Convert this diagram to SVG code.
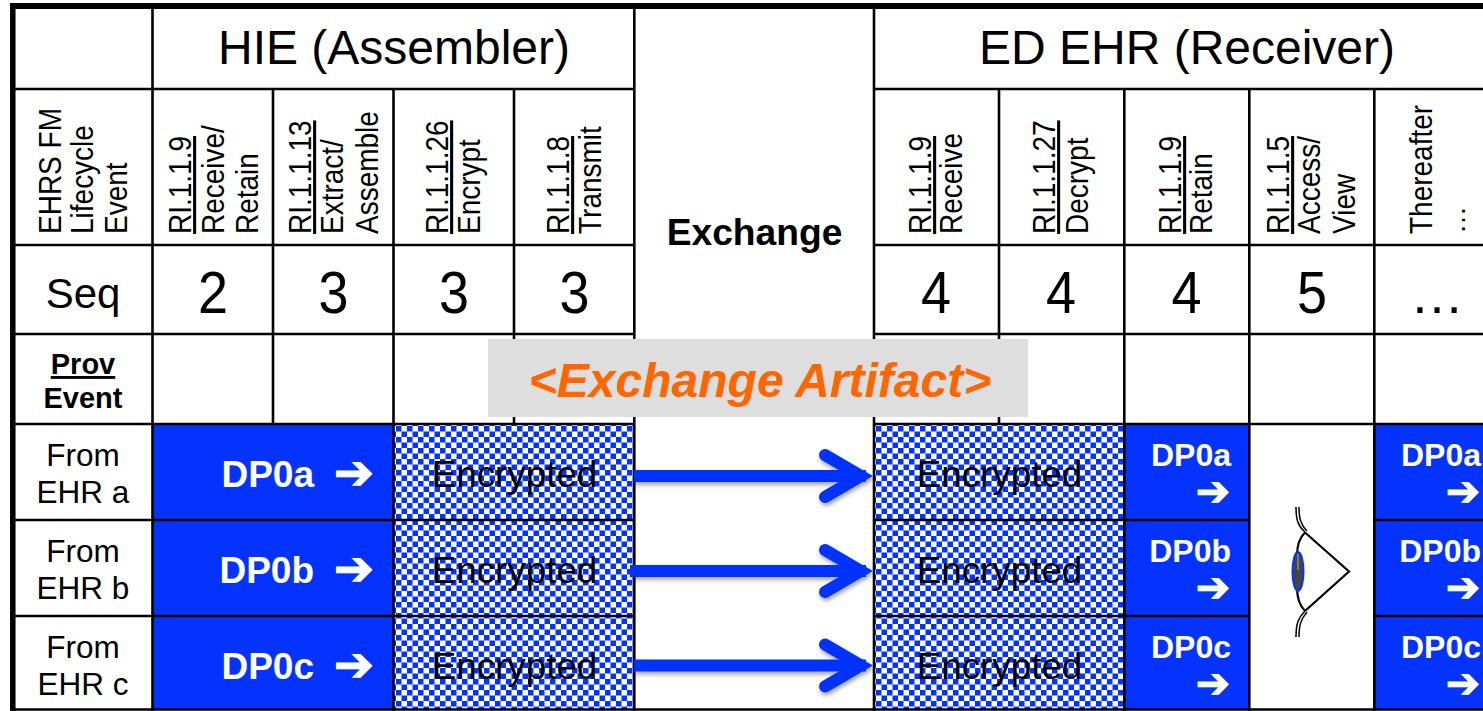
<svg xmlns="http://www.w3.org/2000/svg" width="1483" height="711" viewBox="0 0 1483 711">
<style>
text{font-family:"Liberation Sans",Arial,sans-serif;fill:#000}
.hd{font-size:48px;text-anchor:middle}
.rot{font-size:28px}
.ul{text-decoration:underline;text-decoration-thickness:2.6px;text-underline-offset:2px}
.num{font-size:54px;text-anchor:middle}
.from{font-size:31.5px;text-anchor:middle}
.bold{font-weight:bold}
.dp{font-size:37px;font-weight:bold;fill:#fff;text-anchor:end}
.dps{font-size:32px;font-weight:bold;fill:#fff;text-anchor:end}
.enc{font-size:36.8px;text-anchor:middle}
.ar{font-family:"DejaVu Sans",sans-serif;fill:#fff;stroke:#fff;stroke-width:1;text-anchor:end}
.g{stroke:#000;stroke-width:2.6;fill:none}
.blue{fill:#0433ff}
.shaft{stroke:#0433ff;stroke-width:12;fill:none}
.head{stroke:#0433ff;stroke-width:12;fill:none;stroke-linecap:round;stroke-linejoin:miter;stroke-miterlimit:10}
</style>
<defs>
<pattern id="chk" x="396" y="426" width="11" height="11" patternUnits="userSpaceOnUse">
<rect width="11" height="11" fill="#fff"/>
<rect width="5.5" height="5.5" fill="#0433ff"/>
<rect x="5.5" y="5.5" width="5.5" height="5.5" fill="#0433ff"/>
</pattern>
<pattern id="chk2" x="876" y="426" width="11" height="11" patternUnits="userSpaceOnUse">
<rect width="11" height="11" fill="#fff"/>
<rect width="5.5" height="5.5" fill="#0433ff"/>
<rect x="5.5" y="5.5" width="5.5" height="5.5" fill="#0433ff"/>
</pattern>
<filter id="sh" x="-5%" y="-30%" width="110%" height="170%">
<feDropShadow dx="1" dy="3" stdDeviation="2" flood-color="#000" flood-opacity="0.35"/>
</filter>
</defs>
<rect width="1483" height="711" fill="#fff"/>

<g id="fills">
<rect class="blue" x="152" y="424" width="242" height="286"/>
<rect x="394" y="424" width="240" height="286" fill="url(#chk)"/>
<rect x="874" y="424" width="250" height="286" fill="url(#chk2)"/>
<rect class="blue" x="1124" y="424" width="125" height="286"/>
<rect class="blue" x="1374" y="424" width="109" height="286"/>
</g>

<g id="grid">
<path d="M10 6H1483" stroke="#000" stroke-width="6" fill="none"/>
<path d="M12.8 3V711" stroke="#000" stroke-width="5.5" fill="none"/>
<path class="g" d="M13 89H634M874 89H1483M13 245H634M874 245H1483M13 334H634M874 334H1483M13 424H634M874 424H1483M13 520H634M874 520H1249M1374 520H1483M13 616H634M874 616H1249M1374 616H1483M13 709.5H1483"/>
<path class="g" d="M152.5 6V711M273 89V424M393.5 89V711M514 89V424M634.3 6V711M874 6V711M999 89V424M1124.3 89V711M1249.3 89V711M1374.3 89V711"/>
</g>

<g id="connectors">
<g filter="url(#sh)"><path class="shaft" d="M634 476H866"/><path class="head" d="M825 455L861 476L825 497"/></g>
<g filter="url(#sh)"><path class="shaft" d="M630 571H866"/><path class="head" d="M825 550L861 571L825 592"/></g>
<g filter="url(#sh)"><path class="shaft" d="M634 665.5H866"/><path class="head" d="M825 644.5L861 665.5L825 686.5"/></g>
</g>

<g id="header-hie"><text class="hd" x="394" y="64">HIE (Assembler)</text></g>
<g id="header-ed"><text class="hd" x="1187" y="64">ED EHR (Receiver)</text></g>
<g id="exchange"><text x="754.5" y="245" font-size="37.2" font-weight="bold" text-anchor="middle">Exchange</text></g>

<g id="lifecycle-label">
<text class="rot" transform="translate(61 234) rotate(-90) scale(1 1.1)">EHRS FM</text>
<text class="rot" transform="translate(93 234) rotate(-90) scale(1 1.1)">Lifecycle</text>
<text class="rot" transform="translate(127 234) rotate(-90) scale(1 1.1)">Event</text>
</g>
<g id="col-receive-retain">
<text class="rot ul" transform="translate(191 234) rotate(-90) scale(1 1.1)">RI.1.1.9</text>
<text class="rot" transform="translate(224 234) rotate(-90) scale(1 1.1)">Receive/</text>
<text class="rot" transform="translate(258 234) rotate(-90) scale(1 1.1)">Retain</text>
</g>
<g id="col-extract">
<text class="rot ul" transform="translate(311 234) rotate(-90) scale(1 1.1)">RI.1.1.13</text>
<text class="rot" transform="translate(343 234) rotate(-90) scale(1 1.1)">Extract/</text>
<text class="rot" transform="translate(378 234) rotate(-90) scale(1 1.1)">Assemble</text>
</g>
<g id="col-encrypt">
<text class="rot ul" transform="translate(448 234) rotate(-90) scale(1 1.1)">RI.1.1.26</text>
<text class="rot" transform="translate(480 234) rotate(-90) scale(1 1.1)">Encrypt</text>
</g>
<g id="col-transmit">
<text class="rot ul" transform="translate(569 234) rotate(-90) scale(1 1.1)">RI.1.1.8</text>
<text class="rot" transform="translate(601 234) rotate(-90) scale(1 1.1)">Transmit</text>
</g>
<g id="col-receive">
<text class="rot ul" transform="translate(931 234) rotate(-90) scale(1 1.1)">RI.1.1.9</text>
<text class="rot" transform="translate(962 234) rotate(-90) scale(1 1.1)">Receive</text>
</g>
<g id="col-decrypt">
<text class="rot ul" transform="translate(1055 234) rotate(-90) scale(1 1.1)">RI.1.1.27</text>
<text class="rot" transform="translate(1088 234) rotate(-90) scale(1 1.1)">Decrypt</text>
</g>
<g id="col-retain">
<text class="rot ul" transform="translate(1181 234) rotate(-90) scale(1 1.1)">RI.1.1.9</text>
<text class="rot" transform="translate(1212 234) rotate(-90) scale(1 1.1)">Retain</text>
</g>
<g id="col-access">
<text class="rot ul" transform="translate(1289 234) rotate(-90) scale(1 1.1)">RI.1.1.5</text>
<text class="rot" transform="translate(1320 234) rotate(-90) scale(1 1.1)">Access/</text>
<text class="rot" transform="translate(1355 234) rotate(-90) scale(1 1.1)">View</text>
</g>
<g id="col-thereafter">
<text class="rot" transform="translate(1432 234) rotate(-90) scale(1 1.1)">Thereafter</text>
<text class="rot" transform="translate(1465 234) rotate(-90)">…</text>
</g>

<g id="seq-row">
<text x="83" y="308" font-size="42" text-anchor="middle">Seq</text>
<text class="num" transform="translate(213 313) scale(1 1.08)">2</text>
<text class="num" transform="translate(333.500 313) scale(1 1.08)">3</text>
<text class="num" transform="translate(454 313) scale(1 1.08)">3</text>
<text class="num" transform="translate(574.500 313) scale(1 1.08)">3</text>
<text class="num" transform="translate(936 313) scale(1 1.08)">4</text>
<text class="num" transform="translate(1061 313) scale(1 1.08)">4</text>
<text class="num" transform="translate(1186.500 313) scale(1 1.08)">4</text>
<text class="num" transform="translate(1312 313) scale(1 1.08)">5</text>
<text class="num" x="1437" y="313">…</text>
</g>

<g id="prov-event">
<text class="bold ul" x="83" y="374" font-size="29" text-anchor="middle">Prov</text>
<text class="bold" x="83" y="408" font-size="29" text-anchor="middle">Event</text>
</g>

<g id="row-a-label"><text class="from" x="83" y="466">From</text><text class="from" x="83" y="503">EHR a</text></g>
<g id="row-b-label"><text class="from" x="83" y="562">From</text><text class="from" x="83" y="599">EHR b</text></g>
<g id="row-c-label"><text class="from" x="83" y="658">From</text><text class="from" x="83" y="695">EHR c</text></g>

<g id="dp0a-hie"><text class="dp" x="314" y="487">DP0a</text><text class="ar" x="374" y="488.500" font-size="48">➔</text></g>
<g id="dp0b-hie"><text class="dp" x="314" y="583">DP0b</text><text class="ar" x="374" y="584.500" font-size="48">➔</text></g>
<g id="dp0c-hie"><text class="dp" x="314" y="679">DP0c</text><text class="ar" x="374" y="680.500" font-size="48">➔</text></g>

<g id="enc-hie-a"><text class="enc" x="514.500" y="487">Encrypted</text></g>
<g id="enc-hie-b"><text class="enc" x="514.500" y="583">Encrypted</text></g>
<g id="enc-hie-c"><text class="enc" x="514.500" y="679">Encrypted</text></g>
<g id="enc-ed-a"><text class="enc" x="999.500" y="487">Encrypted</text></g>
<g id="enc-ed-b"><text class="enc" x="999.500" y="583">Encrypted</text></g>
<g id="enc-ed-c"><text class="enc" x="999.500" y="679">Encrypted</text></g>

<g id="dp0a-ed"><text class="dps" x="1231" y="466">DP0a</text><text class="ar" x="1230" y="504.500" font-size="41">➔</text></g>
<g id="dp0b-ed"><text class="dps" x="1231" y="562">DP0b</text><text class="ar" x="1230" y="600.500" font-size="41">➔</text></g>
<g id="dp0c-ed"><text class="dps" x="1231" y="658">DP0c</text><text class="ar" x="1230" y="696.500" font-size="41">➔</text></g>
<g id="dp0a-after"><text class="dps" x="1481" y="466">DP0a</text><text class="ar" x="1480" y="504.500" font-size="41">➔</text></g>
<g id="dp0b-after"><text class="dps" x="1481" y="562">DP0b</text><text class="ar" x="1480" y="600.500" font-size="41">➔</text></g>
<g id="dp0c-after"><text class="dps" x="1481" y="658">DP0c</text><text class="ar" x="1480" y="696.500" font-size="41">➔</text></g>

<g id="eye">
<path d="M1305 532.500L1349 571.500L1305 611" fill="none" stroke="#000" stroke-width="2.200"/>
<path d="M1305 532.500Q1297 540 1297 556M1305 611Q1297 603 1297 587" fill="none" stroke="#000" stroke-width="2.200"/>
<path d="M1296 507C1296 520 1298 526 1305 532M1299 507C1299 519 1301 525 1307 531M1296 637C1296 624 1298 618 1305 611M1299 637C1299 625 1301 619 1307 612" fill="none" stroke="#000" stroke-width="1.500"/>
<ellipse cx="1298" cy="571.500" rx="5.500" ry="19.500" fill="#444" stroke="#0433ff" stroke-width="2"/>
<path d="M1298 554V570" stroke="#aaa" stroke-width="1" fill="none"/>
</g>

<g id="exchange-artifact">
<rect x="488" y="339" width="540" height="78" fill="#dedede"/>
<text x="760" y="397" font-size="48" font-weight="bold" font-style="italic" text-anchor="middle" style="fill:#ff6600">&lt;Exchange Artifact&gt;</text>
</g>
</svg>
